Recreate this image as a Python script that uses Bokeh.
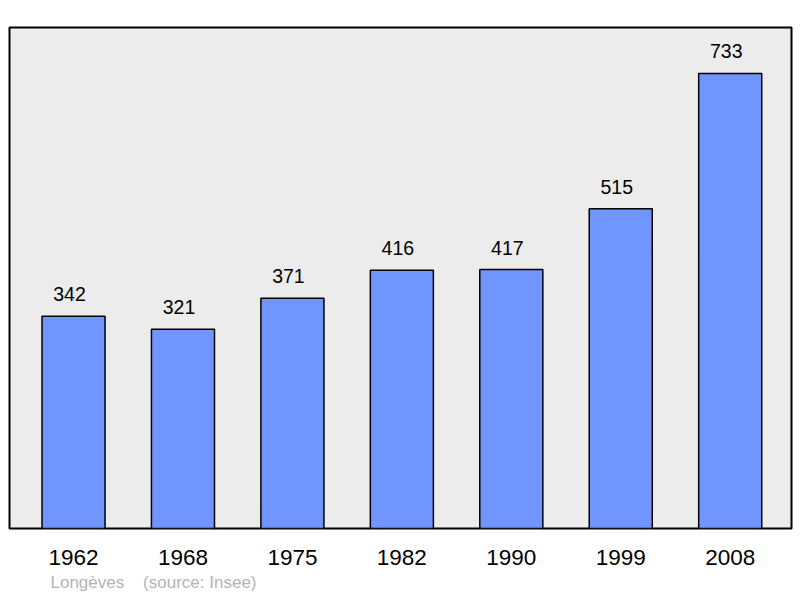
from bokeh.plotting import figure
from bokeh.models import Range1d, FixedTicker, Title, ColumnDataSource
from bokeh.core.properties import value
from bokeh.embed import file_html
from bokeh.resources import INLINE

years = ["1962", "1968", "1975", "1982", "1990", "1999", "2008"]
population = [342, 321, 371, 416, 417, 515, 733]
commune = "Longèves"
source_note = "(source: Insee)"
footer = commune + "\u00a0\u00a0\u00a0 " + source_note

xs = list(range(len(years)))
src = ColumnDataSource(dict(x=xs, top=population, label=[str(v) for v in population]))

p = figure(width=800, height=598, output_backend="svg", toolbar_location=None,
           x_range=Range1d(-0.585, 6.56), y_range=Range1d(0, 807),
           min_border_left=9, min_border_right=9, min_border_top=27, min_border_bottom=70)
p.background_fill_color = "#ECECEC"
p.border_fill_color = "white"
p.outline_line_color = "black"
p.outline_line_width = 2
p.grid.visible = False
p.yaxis.visible = False

p.vbar(x="x", top="top", width=0.576, bottom=0, source=src,
       fill_color="#7095FF", line_color="black", line_width=1.5)
p.text(x="x", y="top", text="label", source=src, y_offset=-22, x_offset=-4,
       text_align="center", text_baseline="alphabetic",
       text_font=value("Liberation Sans"), text_font_size="19.5px", text_color="black")

ax = p.xaxis[0]
ax.ticker = FixedTicker(ticks=xs)
ax.major_label_overrides = {i: y for i, y in zip(xs, years)}
ax.axis_line_color = None
ax.major_tick_line_color = None
ax.minor_tick_line_color = None
ax.major_tick_out = 0
ax.major_tick_in = 0
ax.major_label_standoff = 21
ax.major_label_text_font = "Liberation Sans"
ax.major_label_text_font_size = "22.5px"
ax.major_label_text_color = "black"

p.add_layout(Title(text=footer, align="left", offset=41, standoff=7,
                   text_font="Liberation Sans", text_font_size="17px",
                   text_font_style="normal", text_color="#B4B4B4"), "below")

open("out.html", "w").write(file_html(p, INLINE))
